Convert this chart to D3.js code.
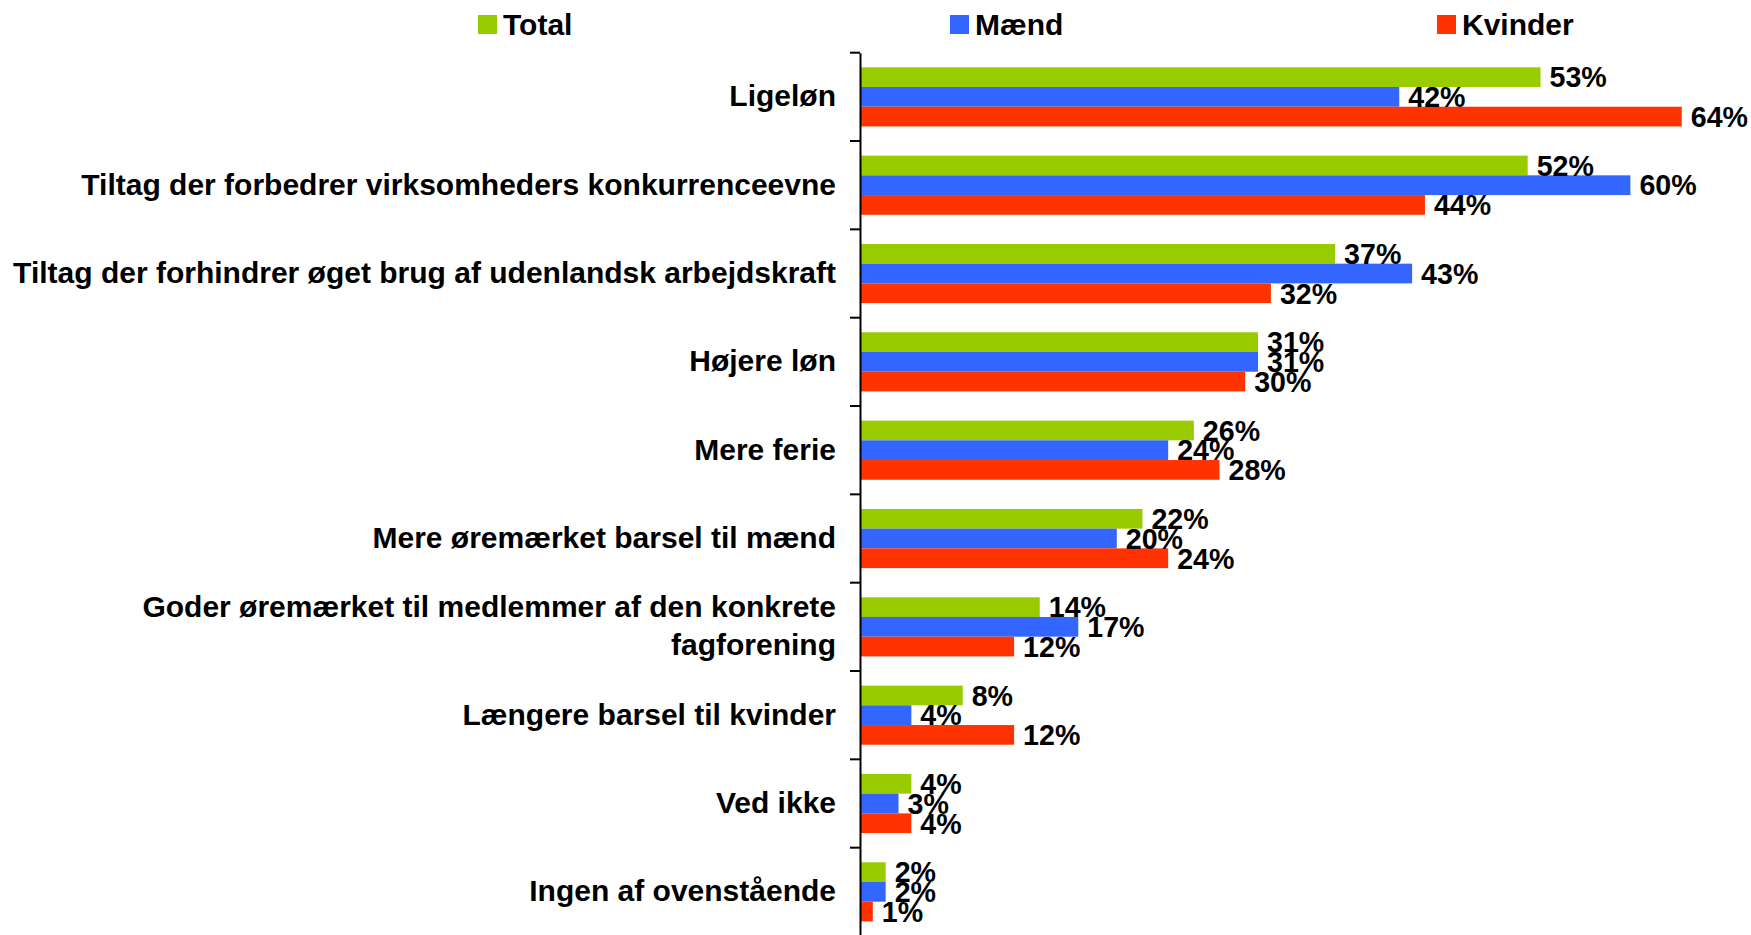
<!DOCTYPE html>
<html>
<head>
<meta charset="utf-8">
<script src="https://cdn.jsdelivr.net/npm/d3@7"></script>
<style>
	body { margin: 0; background: #fff; }
	svg { display: block; font-family: 'Liberation Sans', Arial, sans-serif; font-weight: bold; }
</style>
</head>
<body>
<div id="chart"></div>
<script>
const categories = [
	'Ligeløn',
	'Tiltag der forbedrer virksomheders konkurrenceevne',
	'Tiltag der forhindrer øget brug af udenlandsk arbejdskraft',
	'Højere løn',
	'Mere ferie',
	'Mere øremærket barsel til mænd',
	'Goder øremærket til medlemmer af den konkrete\nfagforening',
	'Længere barsel til kvinder',
	'Ved ikke',
	'Ingen af ovenstående'
];

const seriesNames = ['Total', 'Mænd', 'Kvinder'];
const seriesColors = ['#99cc00', '#3366ff', '#ff3300'];

const totalValues = [53, 52, 37, 31, 26, 22, 14, 8, 4, 2];
const maendValues = [42, 60, 43, 31, 24, 20, 17, 4, 3, 2];
const kvinderValues = [64, 44, 32, 30, 28, 24, 12, 12, 4, 1];

const seriesValues = [totalValues, maendValues, kvinderValues];

const width = 1751;
const height = 935;
const axisX = 860;

const svg = d3.select('#chart')
	.append('svg')
	.attr('width', width)
	.attr('height', height);

const x = d3.scaleLinear()
	.domain([0, 100])
	.range([axisX, axisX + 1284]);

const y = d3.scaleBand()
	.domain(categories)
	.range([52.7, 936]);

const ySeries = d3.scaleBand()
	.domain(seriesNames)
	.range([0, y.step()])
	.paddingInner(0)
	.paddingOuter(0.74);

// bars
const groups = svg.selectAll('g.group')
	.data(categories)
	.enter()
	.append('g')
	.attr('class', 'group')
	.attr('transform', (d) => `translate(0,${y(d)})`);

seriesNames.forEach((name, si) => {
	groups.append('rect')
		.attr('x', x(0))
		.attr('y', ySeries(name))
		.attr('width', (d, i) => x(seriesValues[si][i]) - x(0))
		.attr('height', ySeries.bandwidth())
		.attr('fill', seriesColors[si]);
});

seriesNames.forEach((name, si) => {
	groups.append('text')
		.attr('x', (d, i) => x(seriesValues[si][i]) + 9)
		.attr('y', ySeries(name) + ySeries.bandwidth() / 2)
		.attr('dy', '0.36em')
		.attr('font-size', 28.6)
		.attr('fill', '#000')
		.text((d, i) => seriesValues[si][i] + '%');
});

// axis
const axis = d3.axisLeft(y)
	.tickValues([])
	.tickSizeOuter(0);

svg.append('g')
	.attr('transform', `translate(${axisX},0)`)
	.call(axis)
	.call((g) => g.select('.domain').attr('stroke', '#000').attr('stroke-width', 2));

svg.append('g')
	.selectAll('line')
	.data(categories)
	.enter()
	.append('line')
	.attr('x1', axisX - 10)
	.attr('x2', axisX)
	.attr('y1', (d) => y(d))
	.attr('y2', (d) => y(d))
	.attr('stroke', '#000')
	.attr('stroke-width', 2);

// category labels
const labels = svg.append('g')
	.selectAll('text')
	.data(categories)
	.enter()
	.append('text')
	.attr('x', 836)
	.attr('y', (d) => y(d) + y.step() / 2)
	.attr('text-anchor', 'end')
	.attr('font-size', 30)
	.attr('fill', '#000');

labels.each(function (d) {
	const lines = d.split('\n');
	const lineHeight = 38;
	const start = -(lines.length - 1) * lineHeight / 2 - 1;
	lines.forEach((line, i) => {
		d3.select(this)
			.append('tspan')
			.attr('x', 836)
			.attr('dy', i === 0 ? start + 10.5 : lineHeight)
			.text(line);
	});
});

// legend
const legendX = [478, 950, 1437];

const legend = svg.append('g')
	.selectAll('g')
	.data(seriesNames)
	.enter()
	.append('g')
	.attr('transform', (d, i) => `translate(${legendX[i]},0)`);

legend.append('rect')
	.attr('x', 0)
	.attr('y', 15)
	.attr('width', 19)
	.attr('height', 19)
	.attr('fill', (d, i) => seriesColors[i]);

legend.append('text')
	.attr('x', 25)
	.attr('y', 34.5)
	.attr('font-size', 30)
	.attr('fill', '#000')
	.text((d) => d);
</script>
</body>
</html>
